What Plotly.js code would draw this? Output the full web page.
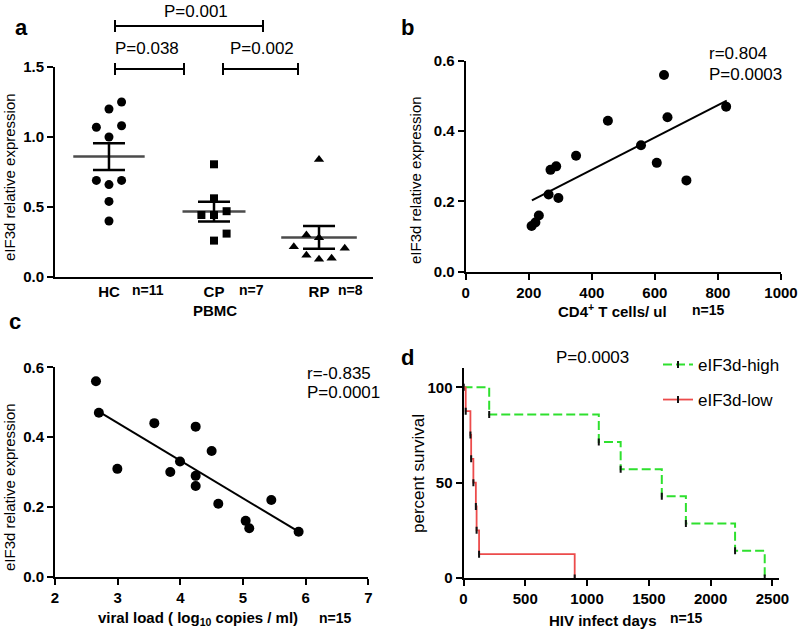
<!DOCTYPE html>
<html><head><meta charset="utf-8">
<script src="https://cdn.plot.ly/plotly-3.0.1.min.js"></script>
<style>html,body{margin:0;padding:0;background:#fff;}</style>
</head><body><div id="chart" style="width:799px;height:631px;"></div>
<script>
// ---------- Panel a : PBMC groups ----------
const groups = ['HC', 'CP', 'RP'];
const groupN = ['n=11', 'n=7', 'n=8'];
const hcValues = [1.25, 1.20, 1.07, 1.08, 1.00, 0.69, 0.66, 0.69, 0.54, 0.40];
const hcJitter = [0.12, 0, -0.12, 0.12, 0, -0.12, 0, 0.12, 0, 0];
const cpValues = [0.805, 0.562, 0.47, 0.443, 0.443, 0.31, 0.26];
const cpJitter = [0, 0, 0.12, -0.12, 0, 0.12, 0];
const rpValues = [0.84, 0.30, 0.28, 0.216, 0.205, 0.155, 0.126, 0.134];
const rpJitter = [0, -0.12, 0, -0.24, 0.245, -0.12, 0, 0.12];
const groupMean = [0.86, 0.467, 0.283];
const groupSEM = [0.095, 0.07, 0.082];
const pLabels = ['P=0.038', 'P=0.002', 'P=0.001'];
const yTicksA = [0, 0.5, 1.0, 1.5];

// ---------- Panel b : CD4+ T cells ----------
const cd4Counts = [209, 221, 232, 263, 269, 287, 294, 350, 451, 556, 606, 629, 640, 700, 826];
const cd4Expr = [0.13, 0.14, 0.16, 0.22, 0.29, 0.30, 0.21, 0.33, 0.43, 0.36, 0.31, 0.56, 0.44, 0.26, 0.47];
const cd4FitX = [210, 828];
const cd4FitY = [0.203, 0.487];
const statsB = ['r=0.804', 'P=0.0003'];

// ---------- Panel c : viral load ----------
const viralLoad = [2.654, 2.70, 2.995, 3.585, 3.84, 3.995, 4.245, 4.245, 4.245, 4.50, 4.606, 5.043, 5.10, 5.452, 5.888];
const viralExpr = [0.56, 0.47, 0.309, 0.44, 0.30, 0.33, 0.43, 0.289, 0.26, 0.36, 0.209, 0.16, 0.139, 0.22, 0.129];
const viralFitX = [2.70, 5.888];
const viralFitY = [0.473, 0.129];
const statsC = ['r=-0.835', 'P=0.0001'];

// ---------- Panel d : survival ----------
const highDays = [0, 208, 1095, 1272, 1605, 1800, 2198, 2438];
const highSurv = [100, 85.7, 71.4, 57.1, 42.9, 28.6, 14.3, 0];
const lowDays = [0, 18, 56, 62, 80, 100, 106, 126, 900];
const lowSurv = [100, 87.5, 75, 62.5, 50, 37.5, 25, 12.5, 0];
const seriesNames = ['eIF3d-high', 'eIF3d-low'];
const pValueD = 'P=0.0003';

// ---------- helpers ----------
const W = 799, H = 631;
const FONT = 'Liberation Sans, Arial, Helvetica, sans-serif';
const px = x => x / W;
const py = y => 1 - y / H;
const jit = (vals, j, g) => vals.map((v, i) => g + j[i]);

const traces = [
  // panel a
  {x: jit(hcValues, hcJitter, 0), y: hcValues, xaxis: 'x', yaxis: 'y', type: 'scatter', mode: 'markers',
   marker: {symbol: 'circle', size: 9, color: '#000'}, showlegend: false, name: groups[0]},
  {x: jit(cpValues, cpJitter, 1), y: cpValues, xaxis: 'x', yaxis: 'y', type: 'scatter', mode: 'markers',
   marker: {symbol: 'square', size: 8, color: '#000'}, showlegend: false, name: groups[1]},
  {x: jit(rpValues, rpJitter, 2), y: rpValues, xaxis: 'x', yaxis: 'y', type: 'scatter', mode: 'markers',
   marker: {symbol: 'triangle-up', size: 9, color: '#000'}, showlegend: false, name: groups[2]},
  {x: [0, 1, 2], y: groupMean, xaxis: 'x', yaxis: 'y', type: 'scatter', mode: 'markers',
   marker: {symbol: 'line-ew', size: [51, 45, 54], color: '#000', line: {color: '#000', width: 2.5}},
   error_y: {type: 'data', array: groupSEM, visible: true, color: '#000', thickness: 2.5, width: 16},
   showlegend: false, name: 'mean ± SEM'},
  // panel b
  {x: cd4Counts, y: cd4Expr, xaxis: 'x2', yaxis: 'y2', type: 'scatter', mode: 'markers',
   marker: {symbol: 'circle', size: 10, color: '#000'}, showlegend: false},
  {x: cd4FitX, y: cd4FitY, xaxis: 'x2', yaxis: 'y2', type: 'scatter', mode: 'lines',
   line: {color: '#000', width: 2}, showlegend: false},
  // panel c
  {x: viralLoad, y: viralExpr, xaxis: 'x3', yaxis: 'y3', type: 'scatter', mode: 'markers',
   marker: {symbol: 'circle', size: 10, color: '#000'}, showlegend: false},
  {x: viralFitX, y: viralFitY, xaxis: 'x3', yaxis: 'y3', type: 'scatter', mode: 'lines',
   line: {color: '#000', width: 2}, showlegend: false},
  // panel d
  {x: highDays, y: highSurv, xaxis: 'x4', yaxis: 'y4', type: 'scatter', mode: 'lines+markers',
   name: seriesNames[0], legend: 'legend',
   line: {shape: 'hv', color: '#2ee02e', width: 2, dash: '9px,4px'},
   marker: {symbol: 'line-ns', size: 5, color: '#000', line: {color: '#111', width: 2}}},
  {x: lowDays, y: lowSurv, xaxis: 'x4', yaxis: 'y4', type: 'scatter', mode: 'lines+markers',
   name: seriesNames[1], legend: 'legend2',
   line: {shape: 'hv', color: '#ec4b4b', width: 1.8},
   marker: {symbol: 'line-ns', size: 5, color: '#000', line: {color: '#111', width: 2}}}
];

const axBase = {
  showline: true, linecolor: '#000', linewidth: 2, showgrid: false, zeroline: false,
  ticks: 'outside', ticklen: 6, tickwidth: 2, tickcolor: '#000',
  tickfont: {family: FONT, size: 15, color: '#000', weight: 'bold'}, fixedrange: true
};
const ax = o => Object.assign({}, axBase, o);

const ann = (text, x, y, o) => Object.assign({
  text: text, x: px(x), y: py(y), xref: 'paper', yref: 'paper', showarrow: false,
  xanchor: 'center', yanchor: 'middle', font: {family: FONT, size: 15, color: '#000'}
}, o || {});
const bold = s => ({font: {family: FONT, size: s, color: '#000', weight: 'bold'}});
const reg = s => ({family: FONT, size: s, color: '#000'});

const annotations = [
  ann('a', 21, 28, bold(22)), ann('b', 408, 28, bold(22)),
  ann('c', 15, 321, bold(22)), ann('d', 407, 357, bold(22)),
  // panel a
  ann('PBMC', 215, 310, bold(15)),
  ann(groupN[0], 148, 290, bold(14)), ann(groupN[1], 251, 290, bold(14)), ann(groupN[2], 350, 290, bold(14)),
  ann(pLabels[0], 147, 48, {font: reg(17)}),
  ann(pLabels[1], 262, 48, {font: reg(17)}),
  ann(pLabels[2], 196, 0, {yanchor: 'top', font: reg(17)}),
  ann('eIF3d relative expression', 9, 177, {textangle: -90}),
  // panel b
  ann('eIF3d relative expression', 415, 180, {textangle: -90}),
  ann('CD4<sup>+</sup> T cells/ ul', 612, 310, bold(15)),
  ann('n=15', 708, 310, bold(14)),
  ann(statsB[0], 707, 53, {xanchor: 'left', font: reg(17)}),
  ann(statsB[1], 707, 75, {xanchor: 'left', font: reg(17)}),
  // panel c
  ann('eIF3d relative expression', 9, 487, {textangle: -90}),
  ann('viral load ( log<sub>10</sub> copies / ml)', 198, 618, bold(15)),
  ann('n=15', 335, 618, bold(14)),
  ann(statsC[0], 305, 373, {xanchor: 'left', font: reg(17)}),
  ann(statsC[1], 305, 392, {xanchor: 'left', font: reg(17)}),
  // panel d
  ann('percent survival', 418, 474, {textangle: -90, font: reg(17)}),
  ann(pValueD, 592, 357, {font: reg(17)}),
  ann('HIV infect days', 603, 620, bold(15)),
  ann('n=15', 686, 618, bold(14))
];

const ln = (x0, y0, x1, y1) => ({type: 'line', xref: 'paper', yref: 'paper',
  x0: px(x0), y0: py(y0), x1: px(x1), y1: py(y1), line: {color: '#000', width: 2}});
const bracket = (xa, xb, y, h) => [ln(xa, y, xb, y), ln(xa, y - h, xa, y + h), ln(xb, y - h, xb, y + h)];
const shapes = [].concat(bracket(115, 184, 69, 6), bracket(223, 298, 69, 6), bracket(115, 263, 26, 6));

const legendBase = {xanchor: 'left', yanchor: 'top', bgcolor: 'rgba(0,0,0,0)', borderwidth: 0,
  itemwidth: 30, font: reg(17), itemclick: false, itemdoubleclick: false};

const layout = {
  width: W, height: H, margin: {l: 0, r: 0, t: 0, b: 0},
  paper_bgcolor: '#fff', plot_bgcolor: '#fff',
  font: {family: FONT, color: '#000'},
  xaxis: ax({domain: [px(55), px(373)], range: [-0.514, 2.514], anchor: 'y',
    tickvals: [0, 1, 2], ticktext: groups, ticks: '', ticklen: 0}),
  yaxis: ax({domain: [py(277), py(67)], range: [0, 1.5], anchor: 'x',
    tickvals: yTicksA, tickformat: '.1f'}),
  xaxis2: ax({domain: [px(465.7), px(781)], range: [0, 1000], anchor: 'y2', dtick: 200}),
  yaxis2: ax({domain: [py(271.7), py(61)], range: [0, 0.6], anchor: 'x2', dtick: 0.2, tickformat: '.1f'}),
  xaxis3: ax({domain: [px(55), px(368.3)], range: [2, 7], anchor: 'y3', dtick: 1}),
  yaxis3: ax({domain: [py(576.7), py(367.3)], range: [0, 0.6], anchor: 'x3', dtick: 0.2, tickformat: '.1f'}),
  xaxis4: ax({domain: [px(463.5), px(779.3)], range: [0, 2556], anchor: 'y4', tickvals: [0, 500, 1000, 1500, 2000, 2500]}),
  yaxis4: ax({domain: [py(578), py(368.3)], range: [0, 110], anchor: 'x4', tickvals: [0, 50, 100]}),
  legend: Object.assign({}, legendBase, {x: px(658), y: py(347)}),
  legend2: Object.assign({}, legendBase, {x: px(658), y: py(382)}),
  annotations: annotations,
  shapes: shapes
};

Plotly.newPlot('chart', traces, layout, {displayModeBar: false, staticPlot: true});
</script>
</body></html>
